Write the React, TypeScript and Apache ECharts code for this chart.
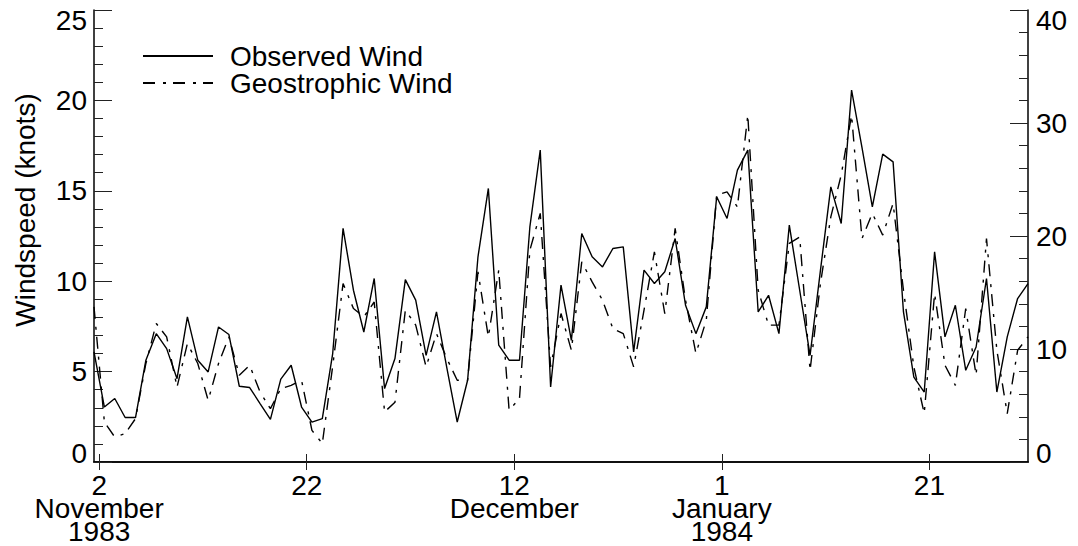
import React, { useEffect, useRef } from "react";
import * as echarts from "echarts";

// Daily values (knots), one per day at midday, starting Nov 1 1983 (x = 0.5 + i)
const observed = [
  6.09, 3.04, 3.51, 2.46, 2.46, 5.63, 7.1, 6.27, 4.61, 8.03,
  5.63, 4.98, 7.47, 7.05, 4.19, 4.12, 3.23, 2.36, 4.58, 5.35,
  3.04, 2.21, 2.4, 6.0, 12.92, 9.5, 7.19, 10.15, 4.06, 5.72,
  10.09, 8.95, 5.9, 8.3, 5.2, 2.21, 4.52, 11.35, 15.13, 6.46,
  5.63, 5.63, 13.0, 17.25, 4.15, 9.78, 6.73, 12.64, 11.35, 10.79,
  11.81, 11.9, 6.09, 10.61, 9.87, 10.52, 12.36, 8.67, 7.1, 8.58,
  14.67, 13.47, 16.14, 17.25, 8.3, 9.22, 7.1, 13.1, 9.5, 5.9,
  10.6, 15.22, 13.19, 20.57, 17.4, 14.11, 17.03, 16.6, 8.3, 4.7,
  3.87, 11.62, 6.92, 8.67, 5.07, 6.36, 10.15, 3.87, 6.92, 9.04,
  9.87,
];

const geostrophic = [
  8.58, 2.21, 1.38, 1.57, 2.4, 5.45, 7.66, 6.92, 4.15, 6.55,
  5.45, 3.41, 5.45, 6.92, 4.8, 5.35, 3.87, 2.95, 4.06, 4.24,
  4.52, 1.75, 1.02, 5.3, 9.87, 8.49, 8.03, 8.85, 2.77, 3.3,
  8.4, 7.57, 5.26, 7.1, 5.72, 4.52, 4.52, 10.52, 6.92, 10.61,
  2.86, 3.51, 11.72, 13.75, 5.26, 8.21, 6.18, 11.07, 9.96, 8.95,
  7.38, 7.1, 5.26, 8.4, 11.62, 8.21, 12.92, 8.95, 6.0, 7.84,
  14.76, 14.94, 14.11, 19.19, 9.5, 7.57, 7.57, 12.09, 12.45, 5.07,
  9.87, 13.56, 15.87, 19.19, 12.36, 13.75, 12.55, 14.3, 9.5, 5.26,
  2.68, 9.32, 5.35, 4.24, 8.49, 4.8, 12.36, 6.18, 2.68, 6.18,
  6.92,
];

// x-axis ticks: day offset from Nov 1 1983 (midnight)
const tickDays = [1, 21, 41, 61, 81];
const tickLabels = ["2\nNovember\n1983", "22", "12\nDecember", "1\nJanuary\n1984", "21"];

const FONT = "Liberation Sans, Arial, Helvetica, sans-serif";

export default function App() {
  const ref = useRef<HTMLDivElement>(null);

  useEffect(() => {
    if (!ref.current) return;
    const chart = echarts.init(ref.current, null, { renderer: "svg" });

    const obsData = observed.map((v, i) => [0.5 + i, v]);
    const geoData = geostrophic.map((v, i) => [0.5 + i, v]);

    const axisLineStyle = { color: "#000", width: 1.5 };
    const tickLineStyle = { color: "#222", width: 1 };

    const yLabel = (min: number, max: number) => ({
      fontSize: 28,
      fontFamily: FONT,
      color: "#000",
      formatter: (v: number) =>
        v === min ? "{lo|" + v + "}" : v === max ? "{hi|" + v + "}" : String(v),
      rich: {
        lo: { fontSize: 28, fontFamily: FONT, color: "#000", padding: [0, 0, 17, 0] },
        hi: { fontSize: 28, fontFamily: FONT, color: "#000", padding: [20, 0, 0, 0] },
      },
    });

    chart.setOption({
      animation: false,
      backgroundColor: "#fff",
      grid: { left: 94, right: 50, top: 10, bottom: 84, containLabel: false, outerBoundsMode: "none" },
      legend: {
        orient: "vertical",
        left: 142,
        top: 42,
        padding: 0,
        itemWidth: 70,
        itemHeight: 14,
        itemGap: -1,
        itemStyle: { opacity: 0 },
        textStyle: {
          fontSize: 28,
          fontFamily: FONT,
          color: "#000",
          lineHeight: 27,
          padding: [0, 0, 0, 12],
        },
        data: ["Observed Wind", "Geostrophic Wind"],
      },
      xAxis: [
        {
          type: "value",
          min: 0.5,
          max: 90.5,
          position: "bottom",
          splitLine: { show: false },
          axisLine: { show: true, lineStyle: axisLineStyle },
          axisTick: { show: true, inside: true, length: 8, lineStyle: tickLineStyle, customValues: tickDays },
          axisLabel: {
            show: true,
            customValues: tickDays,
            margin: 12,
            fontSize: 28,
            lineHeight: 23,
            fontFamily: FONT,
            color: "#000",
            formatter: (v: number) => {
              const k = tickDays.indexOf(Math.round(v));
              return k >= 0 ? tickLabels[k] : "";
            },
          },
        },
        {
          type: "value",
          min: 0.5,
          max: 90.5,
          position: "top",
          splitLine: { show: false },
          axisLine: { show: true, lineStyle: axisLineStyle },
          axisTick: { show: true, inside: true, length: 8, lineStyle: tickLineStyle, customValues: tickDays },
          axisLabel: { show: false },
        },
      ],
      yAxis: [
        {
          type: "value",
          min: 0,
          max: 25,
          interval: 5,
          position: "left",
          splitLine: { show: false },
          axisLine: { show: true, lineStyle: axisLineStyle },
          axisTick: { show: true, inside: true, length: 18, lineStyle: tickLineStyle },
          minorTick: { show: true, splitNumber: 5, length: 9, lineStyle: tickLineStyle },
          minorSplitLine: { show: false },
          axisLabel: { ...yLabel(0, 25), margin: 7 },
        },
        {
          type: "value",
          min: 0,
          max: 40,
          interval: 10,
          position: "right",
          splitLine: { show: false },
          axisLine: { show: true, lineStyle: axisLineStyle },
          axisTick: { show: true, inside: true, length: 18, lineStyle: tickLineStyle },
          minorTick: { show: true, splitNumber: 5, length: 9, lineStyle: tickLineStyle },
          minorSplitLine: { show: false },
          axisLabel: { ...yLabel(0, 40), margin: 8 },
        },
      ],
      graphic: [
        {
          type: "text",
          x: 25,
          y: 210,
          rotation: Math.PI / 2,
          style: {
            text: "Windspeed (knots)",
            fontSize: 28,
            fontFamily: FONT,
            fill: "#000",
            align: "center",
            verticalAlign: "middle",
          },
        },
      ],
      series: [
        {
          name: "Observed Wind",
          type: "line",
          xAxisIndex: 0,
          yAxisIndex: 0,
          data: obsData,
          symbol: "none",
          lineStyle: { color: "#000", width: 1.4, type: "solid" },
          itemStyle: { color: "#000" },
        },
        {
          name: "Geostrophic Wind",
          type: "line",
          xAxisIndex: 0,
          yAxisIndex: 0,
          data: geoData,
          symbol: "none",
          lineStyle: { color: "#000", width: 1.4, type: [12, 8, 3, 7] },
          itemStyle: { color: "#000" },
        },
      ],
    });

    return () => chart.dispose();
  }, []);

  return (
    <div
      ref={ref}
      style={{ position: "fixed", left: 0, top: 0, width: 1078, height: 546, background: "#fff" }}
    />
  );
}
